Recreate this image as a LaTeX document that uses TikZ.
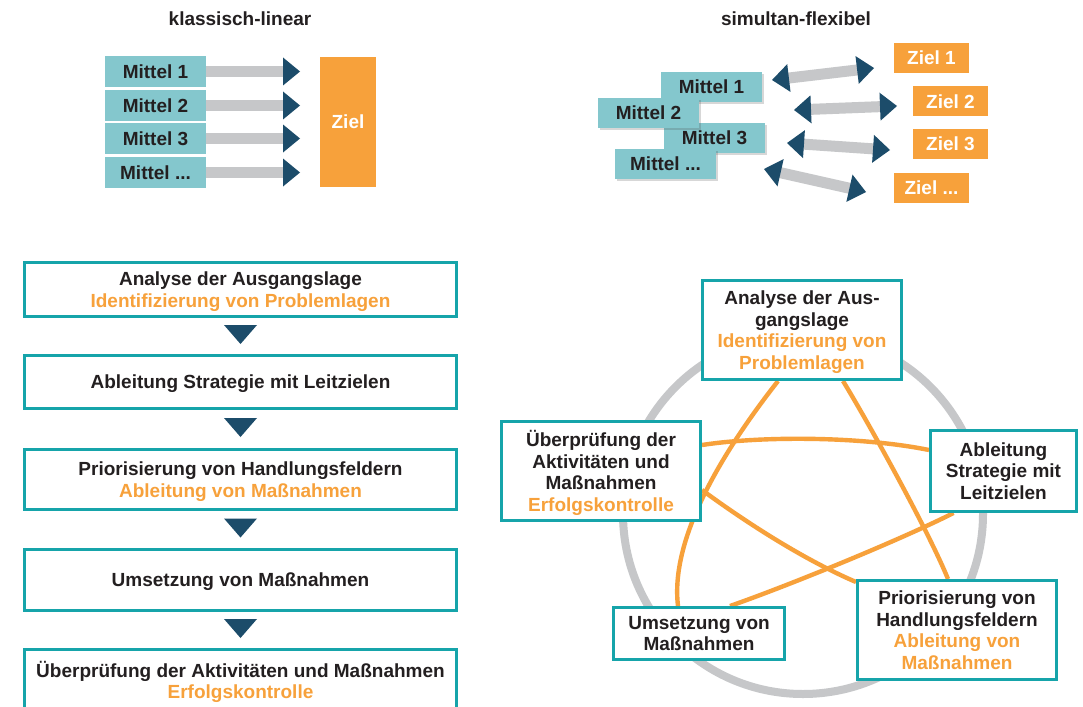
\documentclass[tikz,border=0pt]{standalone}
\usepackage{fontspec}
\setmainfont{Liberation Sans}
\usetikzlibrary{calc,shadows}
\definecolor{tealfill}{HTML}{84C7CD}
\definecolor{tealline}{HTML}{16A4AA}
\definecolor{orng}{HTML}{F7A13B}
\definecolor{dblue}{HTML}{1C4C6A}
\definecolor{barg}{HTML}{C6C7C9}
\definecolor{txt}{HTML}{231F20}
\pgfdeclarelayer{bg}
\pgfsetlayers{bg,main}
\newcommand{\orn}[1]{\textcolor{orng}{#1}}
% tip at #1, its base towards #2
\newcommand{\tipAt}[2]{%
  \coordinate (tmpb) at ($(#1)!17pt!(#2)$);
  \fill[dblue] (#1) -- ($(tmpb)!14pt!90:(#2)$) -- ($(tmpb)!14pt!-90:(#2)$) -- cycle;}
\newcommand{\sglArrow}[2]{%
  \draw[barbar] (#1) -- ($(#2)!16pt!(#1)$);
  \tipAt{#2}{#1}}
\newcommand{\dblArrow}[2]{%
  \draw[barbar] ($(#1)!16pt!(#2)$) -- ($(#2)!16pt!(#1)$);
  \tipAt{#1}{#2}\tipAt{#2}{#1}}
\newcommand{\downTri}[2]{%
  \coordinate (tmpm) at ($(#1.south)!0.5!(#2.north)$);
  \fill[dblue] ($(tmpm)+(-16.5,-11)$) -- ($(tmpm)+(16.5,-11)$) -- ($(tmpm)+(0,8)$) -- cycle;}
\tikzset{
  basetxt/.style={font=\bfseries\fontsize{19}{21.7}\selectfont, text=txt, inner sep=0pt, text depth=0pt},
  mittel/.style={basetxt, fill=tealfill, minimum width=101pt, minimum height=30.5pt},
  zielbox/.style={basetxt, fill=orng, text=white, minimum width=75pt, minimum height=30pt},
  flowbox/.style={basetxt, draw=tealline, line width=3pt, fill=white, minimum width=432pt, align=center},
  pbox/.style={basetxt, draw=tealline, line width=3pt, fill=white, align=center},
  shad/.style={drop shadow={shadow xshift=1.5pt, shadow yshift=-1.8pt, opacity=0.22, fill=black!70}},
  barbar/.style={line width=11pt, barg},
  star/.style={line width=4.4pt, orng},
}
\begin{document}
\begin{tikzpicture}[x=1pt, y=-1pt]
\useasboundingbox (0,0) rectangle (1083,706);
\clip (0,0) rectangle (1083,706);

% titles
\node[basetxt, anchor=base] (t1) at (240,26) {klassisch-linear};
\node[basetxt, anchor=base] (t2) at (796,26) {simultan-flexibel};

% classic linear
\node[mittel] (m1) at (155.5,71.5) {Mittel 1};
\node[mittel] (m2) at (155.5,105.5) {Mittel 2};
\node[mittel] (m3) at (155.5,138.5) {Mittel 3};
\node[mittel] (m4) at (155.5,172.5) {Mittel ...};
\node[basetxt, fill=orng, text=white, minimum width=56pt, minimum height=130pt] (ziel) at (348,122) {Ziel};
\coordinate (e1) at (300,71.5);
\coordinate (e2) at (300,105.5);
\coordinate (e3) at (300,138.5);
\coordinate (e4) at (300,172.5);
\sglArrow{m1.east}{e1}
\sglArrow{m2.east}{e2}
\sglArrow{m3.east}{e3}
\sglArrow{m4.east}{e4}

% simultaneous flexible
\node[mittel, shad] (n1) at (711.5,87) {Mittel 1};
\node[mittel, shad] (n3) at (714.5,138) {Mittel 3};
\node[mittel, shad] (n2) at (648.5,113) {Mittel 2};
\node[mittel, shad] (n4) at (665.5,164) {Mittel ...};
\node[zielbox] (z1) at (931.5,58) {Ziel 1};
\node[zielbox] (z2) at (950.5,101.5) {Ziel 2};
\node[zielbox] (z3) at (950.5,144) {Ziel 3};
\node[zielbox] (z4) at (931.5,188) {Ziel ...};
\coordinate (a1) at (772,80);  \coordinate (b1) at (874,68);
\coordinate (a2) at (794,110); \coordinate (b2) at (897,106);
\coordinate (a3) at (787,143); \coordinate (b3) at (890,150);
\coordinate (a4) at (764,169); \coordinate (b4) at (866,192);
\dblArrow{a1}{b1}
\dblArrow{a2}{b2}
\dblArrow{a3}{b3}
\dblArrow{a4}{b4}

% linear process
\node[flowbox, minimum height=54pt] (f1) at (240.5,289.5) {Analyse der Ausgangslage\\\orn{Identifizierung von Problemlagen}};
\node[flowbox, minimum height=53pt] (f2) at (240.5,382) {Ableitung Strategie mit Leitzielen};
\node[flowbox, minimum height=60pt] (f3) at (240.5,479.5) {Priorisierung von Handlungsfeldern\\\orn{Ableitung von Maßnahmen}};
\node[flowbox, minimum height=61pt] (f4) at (240.5,580) {Umsetzung von Maßnahmen};
\node[flowbox, minimum height=61pt] (f5) at (240.5,680) {Überprüfung der Aktivitäten und Maßnahmen\\\orn{Erfolgskontrolle}};
\downTri{f1}{f2}
\downTri{f2}{f3}
\downTri{f3}{f4}
\downTri{f4}{f5}

% cycle
\node[pbox, minimum width=199pt, minimum height=99pt] (tb) at (802,330) {Analyse der Aus-\\gangslage\\\orn{Identifizierung von}\\\orn{Problemlagen}};
\node[pbox, minimum width=199pt, minimum height=99pt] (lb) at (601,471) {Überprüfung der\\Aktivitäten und\\Maßnahmen\\\orn{Erfolgskontrolle}};
\node[pbox, minimum width=146pt, minimum height=81pt] (rb) at (1003.5,471) {Ableitung\\Strategie mit\\Leitzielen};
\node[pbox, minimum width=199pt, minimum height=99pt] (brb) at (957,630) {Priorisierung von\\Handlungsfeldern\\\orn{Ableitung von}\\\orn{Maßnahmen}};
\node[pbox, minimum width=171pt, minimum height=52pt] (blb) at (699,633.5) {Umsetzung von\\Maßnahmen};

\begin{pgfonlayer}{bg}
  \fill[white] (0,0) rectangle (1083,706);
  \draw[barg, line width=8pt] (803,514) circle[radius=180pt];
  \draw[star] ($(tb.south)+(-24,0)$) .. controls (720,455) and (670,540) .. ($(blb.north)+(-21,0)$);
  \draw[star] ($(tb.south)+(41,0)$) .. controls (868,422) and (928,530) .. ($(brb.north)+(-9,0)$);
  \draw[star] ($(lb.east)+(0,-26)$) .. controls (760,436) and (860,436) .. ($(rb.west)+(0,-21)$);
  \draw[star] ($(lb.east)+(0,19)$) .. controls (740,518) and (800,558) .. ($(brb.west)+(0,-48)$);
  \draw[star] ($(rb.south)+(-50,0)$) .. controls (900,540) and (790,585) .. ($(blb.north)+(31,0)$);
\end{pgfonlayer}
\end{tikzpicture}
\end{document}
